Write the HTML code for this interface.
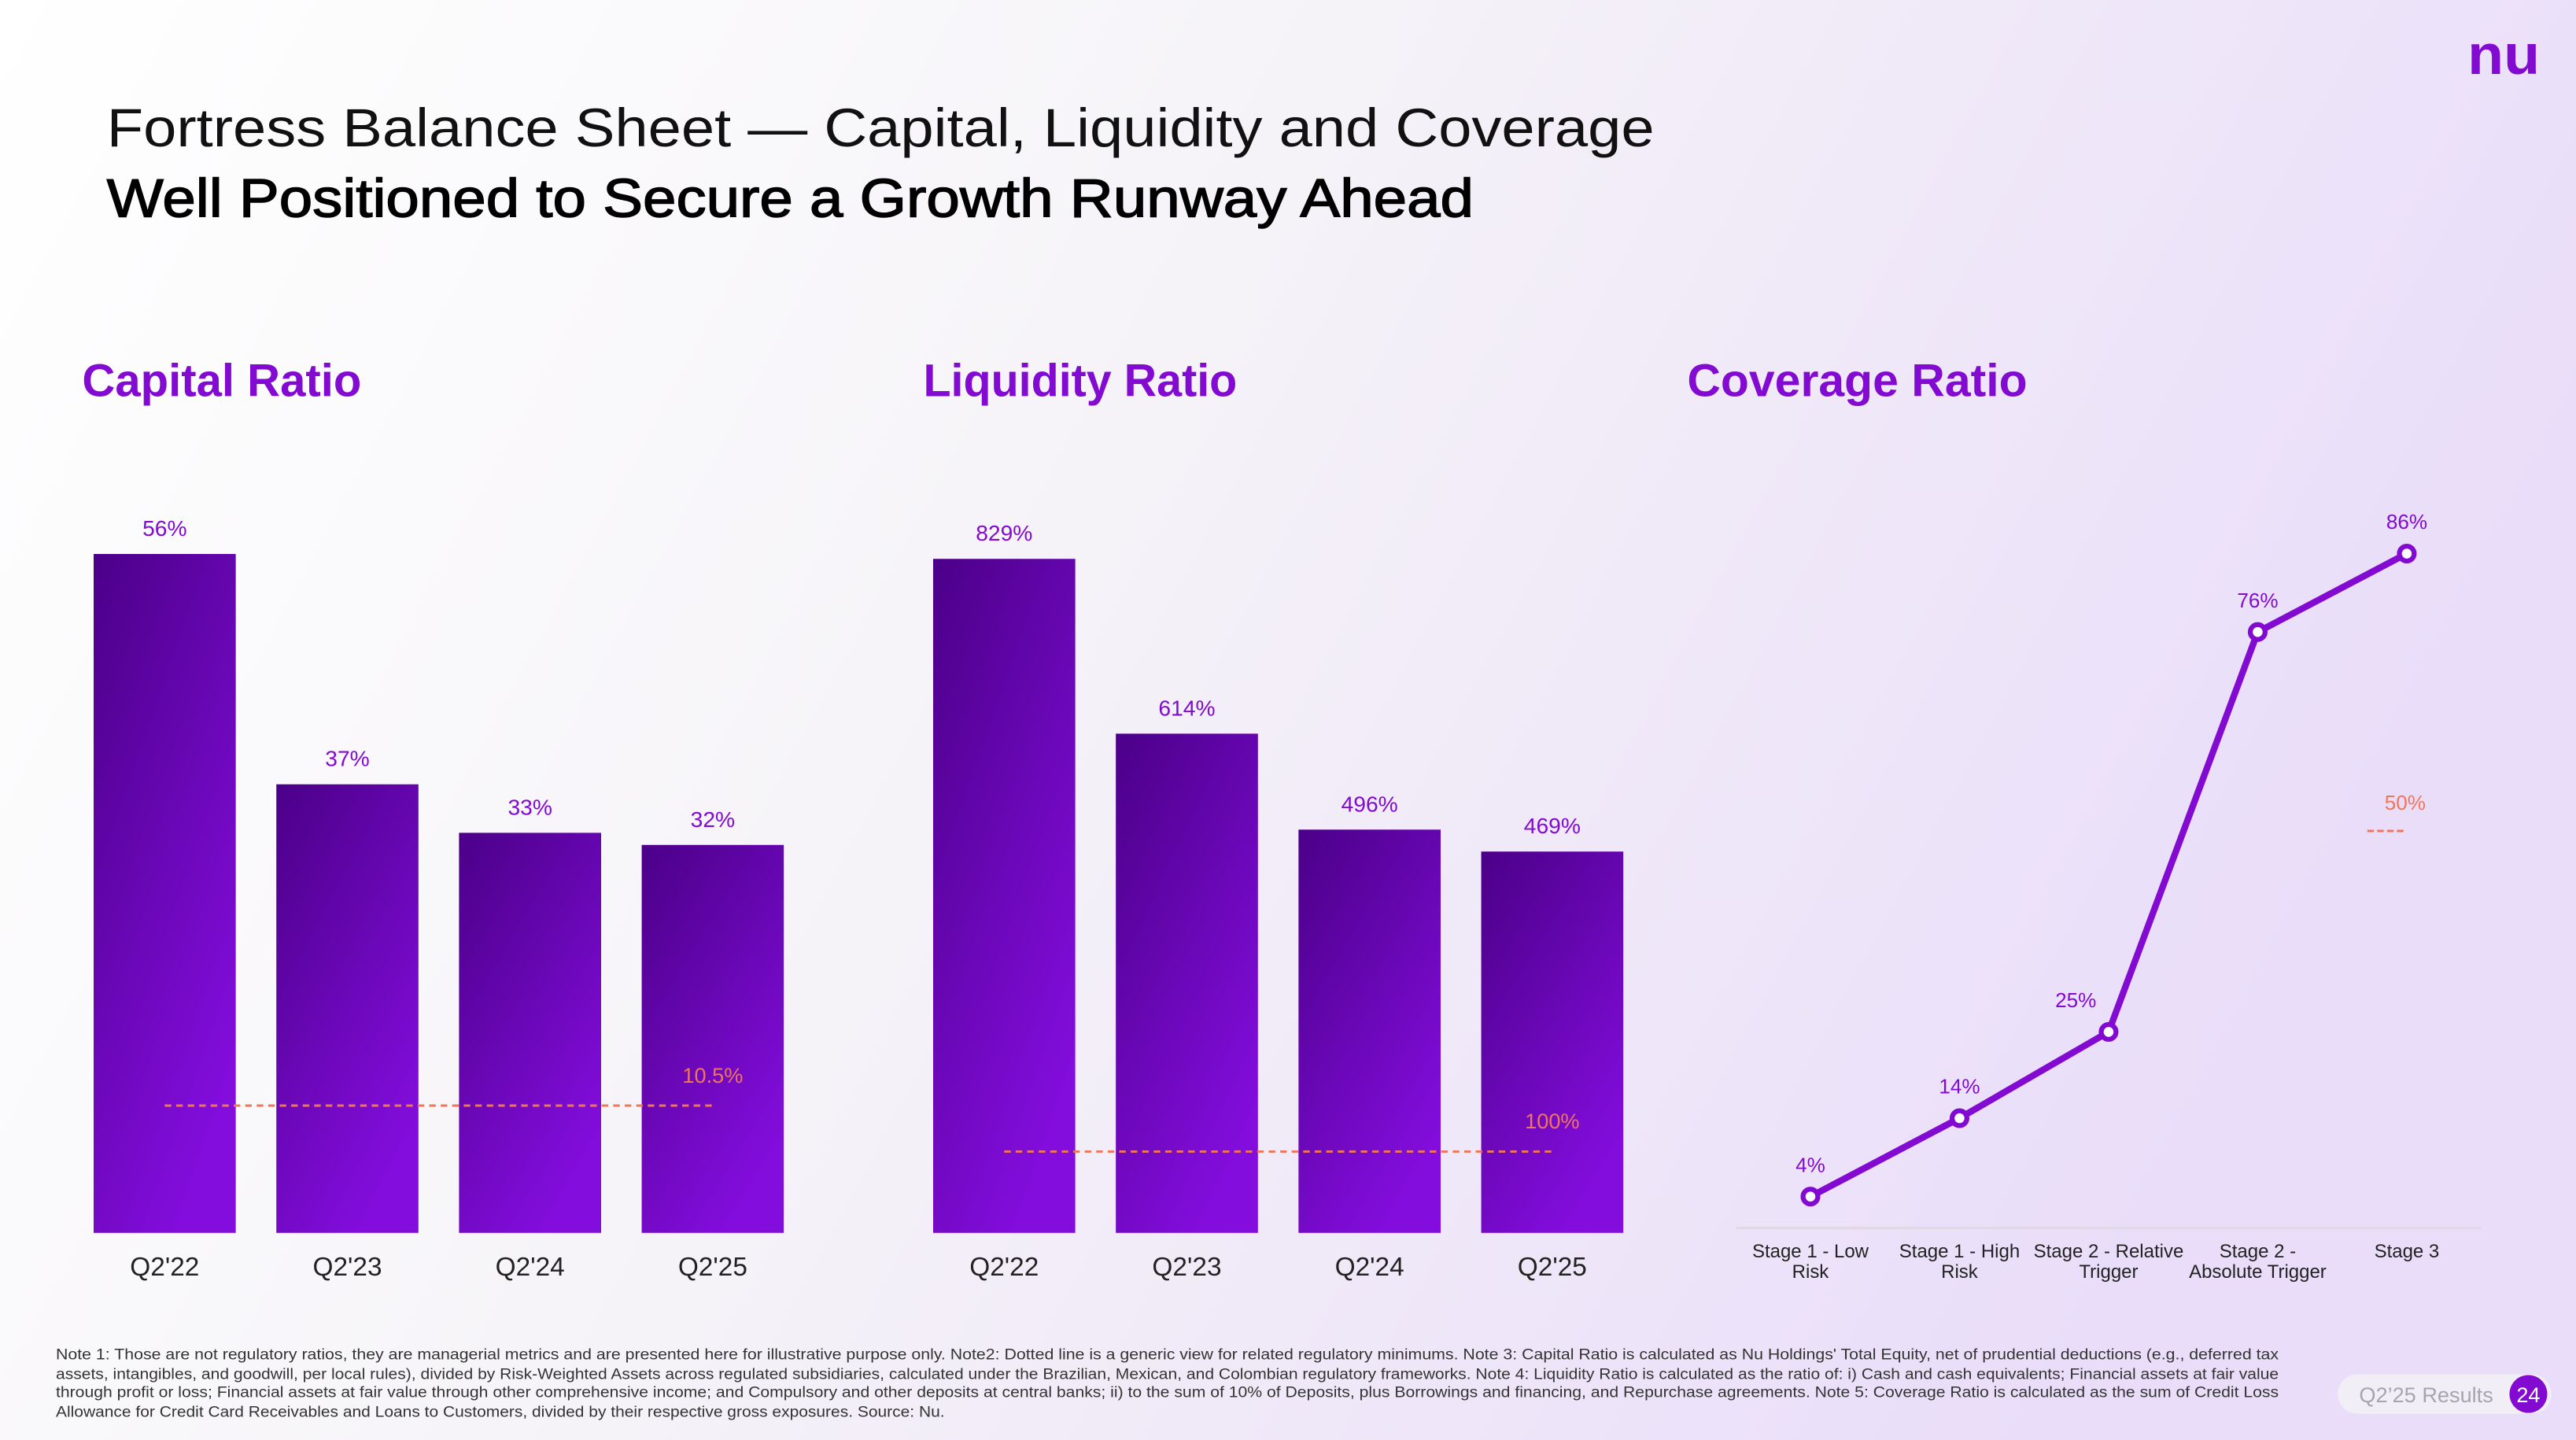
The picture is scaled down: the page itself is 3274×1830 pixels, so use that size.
<!DOCTYPE html>
<html><head><meta charset="utf-8"><style>
html,body{margin:0;padding:0;width:3274px;height:1830px;overflow:hidden}
svg{display:block;font-family:"Liberation Sans",sans-serif}
</style></head><body>
<svg id="s" width="3274" height="1830" viewBox="0 0 1568 876" preserveAspectRatio="none" xmlns="http://www.w3.org/2000/svg">
<defs>
<linearGradient id="bg" x1="0" y1="0" x2="1" y2="0.3"><stop offset="0" stop-color="#ffffff"/><stop offset="0.45" stop-color="#f6f4f8"/><stop offset="1" stop-color="#e9ddf9"/></linearGradient>
<linearGradient id="bar" x1="0" y1="0" x2="0.6" y2="1"><stop offset="0" stop-color="#4b0088"/><stop offset="1" stop-color="#830ddd"/></linearGradient>
</defs>
<rect width="1568" height="876" fill="url(#bg)"/>
<text x="1524" y="45" text-anchor="middle" font-size="34" font-weight="bold" fill="#820ad1" textLength="44" lengthAdjust="spacingAndGlyphs">nu</text>
<text x="65" y="89" font-size="33" fill="#111" textLength="942" lengthAdjust="spacingAndGlyphs">Fortress Balance Sheet — Capital, Liquidity and Coverage</text>
<text x="65" y="132" font-size="33" fill="#000" stroke="#000" stroke-width="0.7" textLength="832" lengthAdjust="spacingAndGlyphs">Well Positioned to Secure a Growth Runway Ahead</text>
<text x="50" y="241" font-size="28" font-weight="bold" fill="#820ad1" textLength="170" lengthAdjust="spacingAndGlyphs">Capital Ratio</text>
<text x="562" y="241" font-size="28" font-weight="bold" fill="#820ad1" textLength="191" lengthAdjust="spacingAndGlyphs">Liquidity Ratio</text>
<text x="1027" y="241" font-size="28" font-weight="bold" fill="#820ad1" textLength="207" lengthAdjust="spacingAndGlyphs">Coverage Ratio</text>
<g id="cap"></g>
<g id="liq"></g>
<g id="cov"></g>
<g font-size="9.5" fill="#333">
<text x="34" y="827" textLength="1353" lengthAdjust="spacingAndGlyphs">Note 1: Those are not regulatory ratios, they are managerial metrics and are presented here for illustrative purpose only. Note2: Dotted line is a generic view for related regulatory minimums. Note 3: Capital Ratio is calculated as Nu Holdings' Total Equity, net of prudential deductions (e.g., deferred tax</text>
<text x="34" y="839" textLength="1353" lengthAdjust="spacingAndGlyphs">assets, intangibles, and goodwill, per local rules), divided by Risk-Weighted Assets across regulated subsidiaries, calculated under the Brazilian, Mexican, and Colombian regulatory frameworks. Note 4: Liquidity Ratio is calculated as the ratio of: i) Cash and cash equivalents; Financial assets at fair value</text>
<text x="34" y="850" textLength="1353" lengthAdjust="spacingAndGlyphs">through profit or loss; Financial assets at fair value through other comprehensive income; and Compulsory and other deposits at central banks; ii) to the sum of 10% of Deposits, plus Borrowings and financing, and Repurchase agreements. Note 5: Coverage Ratio is calculated as the sum of Credit Loss</text>
<text x="34" y="862" textLength="541" lengthAdjust="spacingAndGlyphs">Allowance for Credit Card Receivables and Loans to Customers, divided by their respective gross exposures. Source: Nu.</text>
</g>
<rect x="1423" y="836" width="130" height="24" rx="12" fill="#f1eef5"/>
<text x="1436" y="853" font-size="13" fill="#a8a4ad">Q2’25 Results</text>
<circle cx="1539" cy="848" r="11.5" fill="#820ad1"/>
<text x="1539" y="853" font-size="13" fill="#fff" text-anchor="middle">24</text>
</svg>
<script>
const NS="http://www.w3.org/2000/svg";
const capCategories=["Q2'22","Q2'23","Q2'24","Q2'25"];
const capValues=[56,37,33,32];
const capLabels=["56%","37%","33%","32%"];
const capMin=[10.5];
const capMinLabel=["10.5%"];
const liqCategories=["Q2'22","Q2'23","Q2'24","Q2'25"];
const liqValues=[829,614,496,469];
const liqLabels=["829%","614%","496%","469%"];
const liqMin=[100];
const liqMinLabel=["100%"];
const covCategories=[["Stage 1 - Low","Risk"],["Stage 1 - High","Risk"],["Stage 2 - Relative","Trigger"],["Stage 2 -","Absolute Trigger"],["Stage 3",""]];
const covValues=[4,14,25,76,86];
const covLabels=["4%","14%","25%","76%","86%"];
const covMin=[50];
const covMinLabel=["50%"];

function mk(p,tag,attrs){const e=document.createElementNS(NS,tag);for(const k in attrs)e.setAttribute(k,attrs[k]);p.appendChild(e);return e;}

function barChart(g,cats,vals,labs,minv,minlab,x0,pxPer,prefix){
  const base=750,w=86.5,pitch=111.2;
  const xs=i=>x0+i*pitch;
  const ys=v=>base-v*pxPer;
  cats.forEach((c,i)=>{
    const r=mk(g,'rect',{x:xs(i),y:ys(vals[i]),width:w,height:base-ys(vals[i]),fill:'url(#bar)'});
    
    
    const t=mk(g,'text',{x:xs(i)+w/2,y:ys(vals[i])-11,'text-anchor':'middle','font-size':13.5,fill:'#820ad1'});t.textContent=labs[i];
    
    
    const l=mk(g,'text',{x:xs(i)+w/2,y:776,'text-anchor':'middle','font-size':16,fill:'#222'});l.textContent=c;
    
    
  });
  const ly=ys(minv[0]);
  const ln=mk(g,'line',{x1:xs(0)+w/2,x2:xs(3)+w/2,y1:ly,y2:ly,stroke:'#f0765a','stroke-width':1.4,'stroke-dasharray':'4,3'});
  
  
  const mt=mk(g,'text',{x:xs(3)+w/2,y:ly-14,'text-anchor':'middle','font-size':13,fill:'#f0765a'});mt.textContent=minlab[0];
  
  
}
barChart(document.getElementById('cap'),capCategories,capValues,capLabels,capMin,capMinLabel,57,7.375,'capital');
barChart(document.getElementById('liq'),liqCategories,liqValues,liqLabels,liqMin,liqMinLabel,568,0.4946,'liquidity');

(function(){
  const g=document.getElementById('cov');
  const base=747,pxPer=4.77,x0=1102,pitch=90.75;
  const xs=i=>x0+i*pitch, ys=v=>base-v*pxPer;
  const ax=mk(g,'line',{x1:1057,x2:1510,y1:747,y2:747,stroke:'#dddae0','stroke-width':1.5});
  
  
  const pts=covValues.map((v,i)=>xs(i)+','+ys(v)).join(' ');
  const pl=mk(g,'polyline',{points:pts,fill:'none',stroke:'#820ad1','stroke-width':4,'stroke-linejoin':'round'});
  
  
  covValues.forEach((v,i)=>{
    const c=mk(g,'circle',{cx:xs(i),cy:ys(v),r:4.5,fill:'#fff',stroke:'#820ad1','stroke-width':3});
    
    
    const dx=(i===2)?-20:0;
    const t=mk(g,'text',{x:xs(i)+dx,y:ys(v)-15,'text-anchor':'middle','font-size':12.5,fill:'#820ad1'});t.textContent=covLabels[i];
    
    
    covCategories[i].forEach((s,j)=>{
      const l=mk(g,'text',{x:xs(i),y:765+j*12.5,'text-anchor':'middle','font-size':11.5,fill:'#222'});l.textContent=s;
      
      
    });
  });
  const my=ys(covMin[0])-3;
  const d=mk(g,'line',{x1:1441,x2:1464,y1:my,y2:my,stroke:'#f0765a','stroke-width':1.4,'stroke-dasharray':'4,2'});
  
  
  const mt=mk(g,'text',{x:1464,y:my-13,'text-anchor':'middle','font-size':12.5,fill:'#f0765a'});mt.textContent=covMinLabel[0];
  
  
})();
</script>
</body></html>
